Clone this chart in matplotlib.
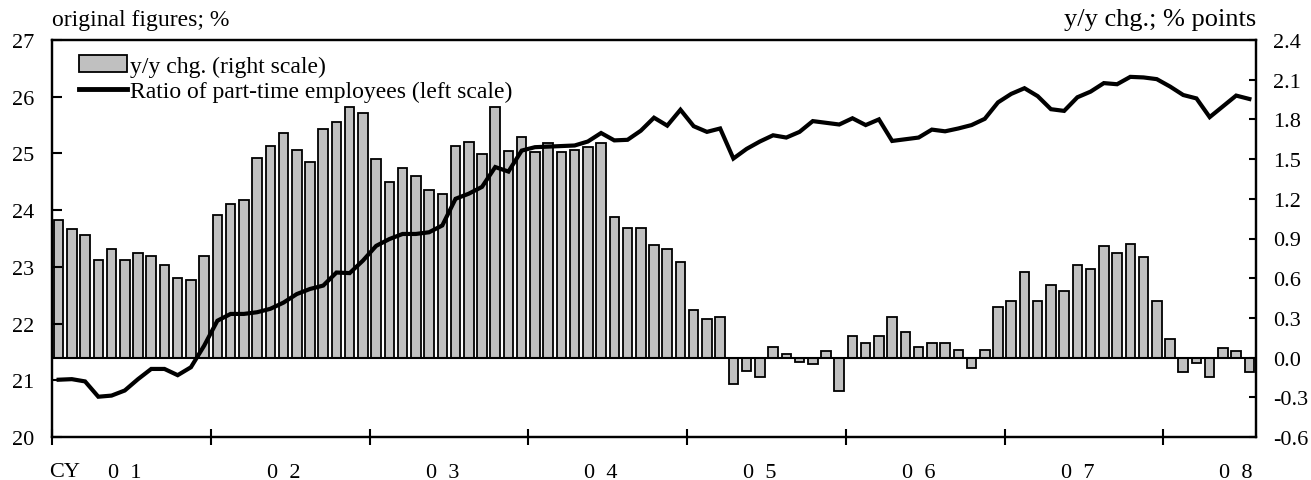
import numpy as np
import matplotlib
matplotlib.use("Agg")
import matplotlib.pyplot as plt
from matplotlib.patches import Patch
from matplotlib.lines import Line2D

plt.rcParams['font.family'] = ['Liberation Serif', 'DejaVu Serif']

# monthly data, Jan 2001 - Jul 2008
yy_chg = [1.04, 0.97, 0.93, 0.74, 0.82, 0.74, 0.79, 0.77, 0.70, 0.60, 0.59, 0.77,
          1.08, 1.16, 1.19, 1.51, 1.60, 1.70, 1.57, 1.48, 1.73, 1.78, 1.89, 1.85,
          1.50, 1.33, 1.43, 1.37, 1.27, 1.24, 1.60, 1.63, 1.54, 1.89, 1.56, 1.67,
          1.55, 1.62, 1.55, 1.57, 1.59, 1.62, 1.06, 0.98, 0.98, 0.85, 0.82, 0.72,
          0.36, 0.29, 0.31, -0.20, -0.10, -0.15, 0.08, 0.03, -0.03, -0.05, 0.05, -0.25,
          0.16, 0.11, 0.16, 0.31, 0.19, 0.08, 0.11, 0.11, 0.06, -0.08, 0.06, 0.38,
          0.43, 0.65, 0.43, 0.55, 0.50, 0.70, 0.67, 0.84, 0.79, 0.86, 0.76, 0.43,
          0.14, -0.11, -0.04, -0.15, 0.07, 0.05, -0.11]

ratio = [21.01, 21.02, 20.98, 20.71, 20.73, 20.82, 21.02, 21.20, 21.20, 21.09, 21.23, 21.61,
         22.05, 22.17, 22.17, 22.20, 22.26, 22.37, 22.52, 22.61, 22.67, 22.90, 22.89, 23.11,
         23.37, 23.49, 23.58, 23.58, 23.61, 23.73, 24.20, 24.29, 24.41, 24.76, 24.68, 25.05,
         25.11, 25.12, 25.13, 25.14, 25.21, 25.36, 25.23, 25.24, 25.40, 25.63, 25.49, 25.77,
         25.48, 25.38, 25.44, 24.91, 25.08, 25.21, 25.32, 25.28, 25.38, 25.57, 25.54, 25.51,
         25.62, 25.50, 25.60, 25.22, 25.25, 25.28, 25.42, 25.39, 25.44, 25.50, 25.61, 25.90,
         26.05, 26.15, 26.01, 25.78, 25.75, 25.99, 26.09, 26.24, 26.22, 26.35, 26.34, 26.31,
         26.18, 26.03, 25.97, 25.64, 25.83, 26.02, 25.96]

years = ["0  1", "0  2", "0  3", "0  4", "0  5", "0  6", "0  7", "0  8"]

n = len(yy_chg)
x = np.arange(n) + 0.5

fig = plt.figure(figsize=(13.11, 4.81), dpi=100)
ax = fig.add_axes([52/1311, 1 - 438/481, (1256 - 52)/1311, (438 - 41)/481])
ax2 = ax.twinx()

# bars on right scale
ax2.bar(x, yy_chg, width=0.72, color="#c0c0c0", edgecolor="black", linewidth=1.3, zorder=2)
ax2.axhline(0, color="black", linewidth=1.5, zorder=3)
ax2.set_ylim(-0.6, 2.4)
ax2.set_yticks(np.arange(-0.6, 2.41, 0.3))
ax2.set_yticklabels(["%.1f" % v for v in np.arange(-0.6, 2.41, 0.3)])

# line on left scale, drawn over bars
ax.set_zorder(ax2.get_zorder() + 1)
ax.patch.set_visible(False)
ax.plot(x, ratio, color="black", linewidth=3.0, solid_joinstyle="miter", zorder=4)
ax.set_ylim(20, 27)
ax.set_yticks(range(20, 28))
ax.set_xlim(0, n)

ax.set_xticks(np.arange(0, n, 12))
ax.set_xticklabels([])
ax.set_xticks(np.arange(0, n, 12) + 5.5, minor=True)
ax.set_xticklabels(years, minor=True)
ax.tick_params(axis="x", which="major", direction="inout", length=12, width=1.5)
ax.tick_params(axis="x", which="minor", length=0, pad=18.5, labelsize=16)
ax.tick_params(axis="y", direction="in", length=7, width=1.5, pad=13, labelsize=16)
ax2.tick_params(axis="y", direction="in", length=5, width=1.5, pad=12, labelsize=16)

for a in (ax, ax2):
    for s in a.spines.values():
        s.set_linewidth(1.6)

ax.text(-0.002, -0.064, "CY", transform=ax.transAxes, fontsize=16, ha="left", va="top")
ax.text(0.0, 1.025, "original figures; %", transform=ax.transAxes, fontsize=17, ha="left", va="bottom")
ax.text(1.0, 1.025, "y/y chg.; % points", transform=ax.transAxes, fontsize=19, ha="right", va="bottom")

handles = [Patch(facecolor="#c0c0c0", edgecolor="black", linewidth=1.3),
           Line2D([0], [0], color="black", linewidth=3.5)]
labels = ["y/y chg. (right scale)", "Ratio of part-time employees (left scale)"]
ax.legend(handles, labels, loc="upper left", bbox_to_anchor=(0.01, 1.0), frameon=False,
          fontsize=17, handlelength=2.0, handletextpad=0.15, labelspacing=0.15,
          borderaxespad=0.25)

fig.savefig("out.png", dpi=100)
